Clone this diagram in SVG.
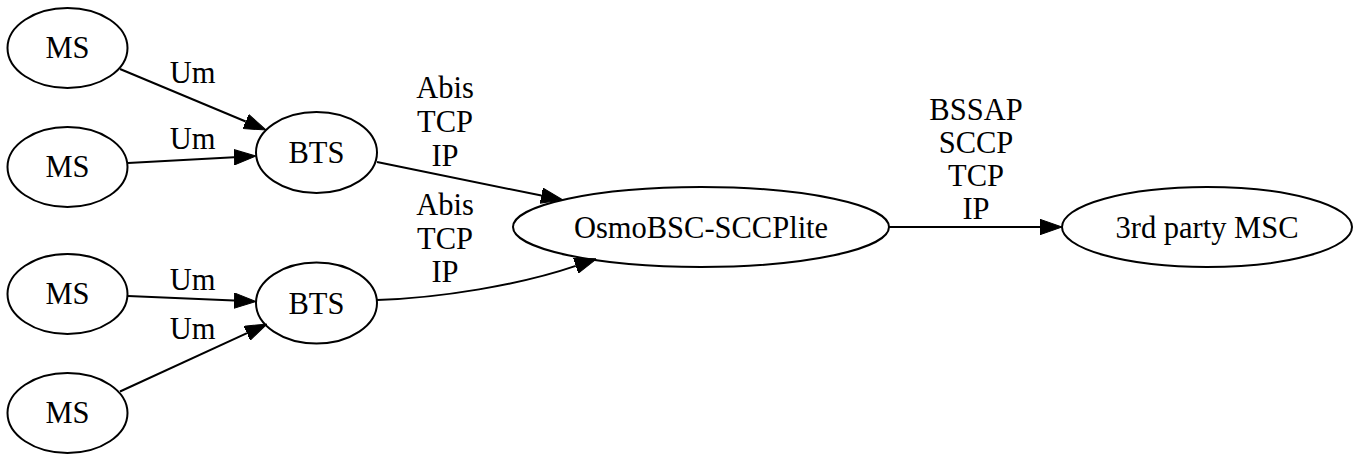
<svg xmlns="http://www.w3.org/2000/svg" width="1361" height="455" viewBox="0 0 1361 455" font-family="Liberation Serif, serif" font-size="30.5">
<style>
.n ellipse{fill:none;stroke:#000;stroke-width:2}
text{fill:#000;text-anchor:middle}
.e path{fill:none;stroke:#000;stroke-width:2;marker-end:url(#ah)}
</style>
<defs>
<marker id="ah" viewBox="0 0 22 16" refX="0" refY="8" markerWidth="22" markerHeight="16" markerUnits="userSpaceOnUse" orient="auto">
<path d="M0,0.3 L22,8 L0,15.7 z" fill="#000" stroke="#000" stroke-width="1"/>
</marker>
</defs>
<rect width="1361" height="455" fill="#fff"/>
<g id="edges" class="e">
<path d="M120,69 L245.7,121.5"/>
<path d="M128,163 L234,157.2"/>
<path d="M128,296 L234,300.6"/>
<path d="M120,391.5 L247,333.2"/>
<path d="M377,162 L541.4,195.6"/>
<path d="M377,300 C440,298 520,285 575.8,265.9"/>
<path d="M889,227 L1040,227"/>
<text x="192.5" y="83">Um</text>
<text x="192.5" y="149">Um</text>
<text x="192.5" y="290">Um</text>
<text x="192.5" y="339">Um</text>
<text x="445" y="98">Abis</text>
<text x="445" y="132">TCP</text>
<text x="445" y="166">IP</text>
<text x="445" y="215">Abis</text>
<text x="445" y="249">TCP</text>
<text x="445" y="282">IP</text>
<text x="976" y="120">BSSAP</text>
<text x="976" y="153">SCCP</text>
<text x="976" y="186">TCP</text>
<text x="976" y="219">IP</text>
</g>
<g id="ms1" class="n"><ellipse cx="67.5" cy="48" rx="60" ry="40"/><text x="67.5" y="58">MS</text></g>
<g id="ms2" class="n"><ellipse cx="67.5" cy="167" rx="60" ry="40"/><text x="67.5" y="177">MS</text></g>
<g id="ms3" class="n"><ellipse cx="67.5" cy="294" rx="60" ry="40"/><text x="67.5" y="304">MS</text></g>
<g id="ms4" class="n"><ellipse cx="67.5" cy="413" rx="60" ry="40"/><text x="67.5" y="423">MS</text></g>
<g id="bts1" class="n"><ellipse cx="316.5" cy="152.5" rx="60.5" ry="40.5"/><text x="316.5" y="163">BTS</text></g>
<g id="bts2" class="n"><ellipse cx="316.5" cy="303" rx="60.5" ry="40.5"/><text x="316.5" y="313.5">BTS</text></g>
<g id="osmobsc" class="n"><ellipse cx="701" cy="227" rx="188" ry="40"/><text x="701" y="237.5">OsmoBSC-SCCPlite</text></g>
<g id="msc" class="n"><ellipse cx="1207" cy="227" rx="145" ry="40"/><text x="1207" y="237.5">3rd party MSC</text></g>
</svg>
